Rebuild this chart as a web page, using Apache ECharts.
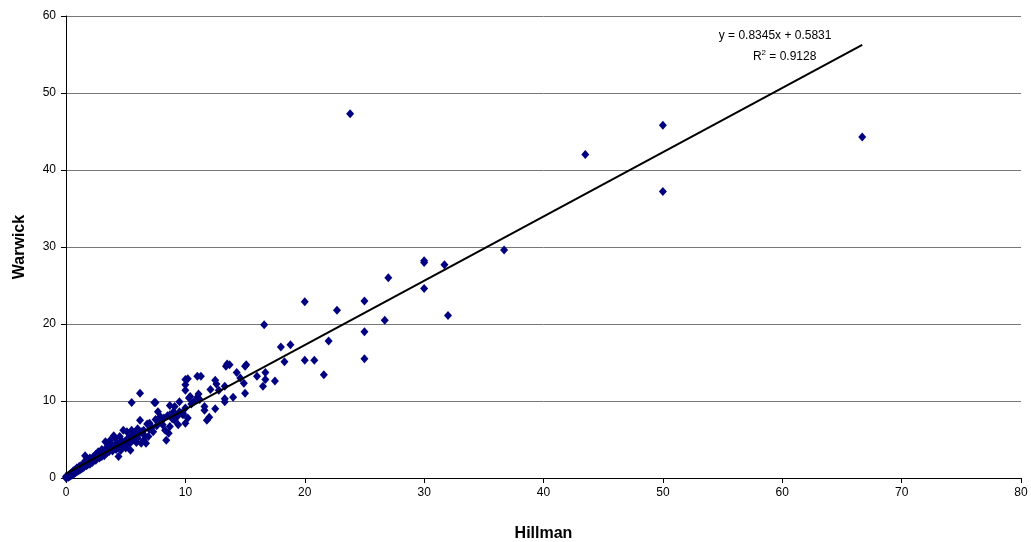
<!DOCTYPE html>
<html>
<head>
<meta charset="utf-8">
<script src="https://cdn.jsdelivr.net/npm/echarts@6/dist/echarts.min.js"></script>
<style>html,body{margin:0;padding:0;background:#fff;}#c{width:1031px;height:542px;}</style>
</head>
<body>
<div id="c"></div>
<script>
// Hillman (x) and Warwick (y) values, paired by index
const hillman = [
 23.8,43.5,50,50,66.7,36.7,30,30,31.7,30,27,26.7,32,25,25,25,22.7,20,22,21.6,20,20.8,16.6,18,18.8,18.3,17.5,16.7,16.7,16.5,16,15,15.1,14.6,14.3,13.7,13.5,13.4,15,14,13.3,13.3,13.3,12.5,12.6,12.1,12.5,12.0,11.8,11.6,11.6,11.3,11.0,11.1,11.0,10.7,10.4,10.0,10.2,10.0,10.0,10.0,10.3,9.7,9.8,10.2,10.0,9.1,9.0,8.7,8.7,9.5,9.5,9.3,9.1,8.7,9.4,8.6,8.3,8.1,8.4,7.7,7.9,7.5,7.4,7.0,7.3,6.9,6.5,6.5,6.2,6.2,6.7,6.3,5.5,5.4,5.8,5.5,5.1,5.1,4.9,4.8,4.5,4.0,4.1,3.9,3.7,3.3,4.4,2.3,1.6,
 0,0,0.1,0.2,0.2,0.3,0.3,0.4,0.4,0.5,0.5,0.6,0.6,0.7,0.7,0.8,0.8,0.9,0.9,1.0,1.0,1.1,1.1,1.2,1.2,1.3,1.4,1.4,1.5,1.5,1.6,1.7,1.8,1.8,1.9,2.0,2.0,2.1,2.2,2.3,2.4,2.5,2.5,2.6,2.7,2.8,2.9,3.0,3.0,3.1,3.2,3.3,3.4,3.5,3.6,3.7,3.8,3.9,4.0,4.2,4.3,4.5,4.6,4.7,4.8,5.0,5.2,5.3,5.4,5.6,5.7,5.9,6.0,6.0,6.1,6.3,6.6,6.8,7.0,7.2,7.5,7.6,7.8,8.0,8.2,8.5,8.9,9.3,9.8,10.5,11.2,12.8,14.9
];
const warwick = [
 47.3,42.0,45.8,37.2,44.3,29.6,28.2,28.0,27.7,24.6,26.0,20.5,21.1,23.0,19.0,15.5,21.8,22.9,17.8,13.4,15.3,15.3,19.9,17.0,17.3,15.1,12.6,13.7,12.8,11.9,13.2,14.5,14.7,13.0,13.7,14.7,14.8,14.5,11.0,10.5,11.9,10.3,9.9,12.7,12.2,11.5,9.0,7.9,7.5,9.3,8.8,13.2,13.2,10.9,10.5,9.9,10.6,12.8,12.9,12.1,11.4,9.1,10.4,8.4,8.2,7.8,7.1,9.3,8.6,8.2,9.4,9.9,8.6,8.0,7.5,6.7,6.9,5.8,6.2,6.9,4.9,8.6,8.0,9.8,9.8,7.1,6.0,5.4,6.2,4.9,7.5,11.0,4.5,4.5,9.8,5.4,5.8,6.2,6.0,4.7,4.7,6.2,5.4,5.5,5.2,4.3,4.9,4.7,2.8,2.8,2.9,
 0,0.2,0.1,0.3,0.1,0.2,0.5,0.3,0.6,0.4,0.7,0.5,0.9,0.6,1.0,0.7,1.1,0.8,1.3,0.9,1.2,1.0,1.5,1.1,1.6,1.2,1.7,1.3,1.9,1.4,2.2,1.6,2.3,1.7,2.0,2.6,1.8,2.4,2.0,2.2,2.6,3.1,2.3,2.8,3.4,2.6,3.2,3.7,2.8,3.3,2.9,3.8,3.2,4.1,3.4,3.8,4.4,3.5,4.0,3.7,4.6,4.1,3.6,4.8,4.3,3.9,5.2,4.4,3.6,4.9,5.4,4.6,6.4,5.2,5.7,6.0,5.5,7.0,6.3,6.6,7.6,6.8,7.3,7.4,7.8,8.1,7.7,8.0,8.4,9.6,10.2,11.4,12.3
];
const xTicks = [0,10,20,30,40,50,60,70,80];
const yTicks = [0,10,20,30,40,50,60];
const slope = 0.8345, intercept = 0.5831, r2 = 0.9128;

const pts = hillman.map((x,i)=>[x,warwick[i]]);
const xMax = Math.max(...hillman);
const trend = [[0, intercept],[xMax, slope*xMax+intercept]];

const chart = echarts.init(document.getElementById('c'), null, {renderer:'canvas'});
const font = "'Liberation Sans', Arial, sans-serif";
chart.setOption({
  animation:false,
  backgroundColor:'#fff',
  grid:{left:66,right:10,top:16,bottom:64,containLabel:false,outerBoundsMode:'none'},
  xAxis:{type:'value',min:xTicks[0],max:xTicks[xTicks.length-1],interval:10,
    name:'Hillman',nameLocation:'middle',nameGap:48,
    nameTextStyle:{fontFamily:font,fontSize:16,fontWeight:'bold',color:'#000'},
    axisLine:{show:true,onZero:false,lineStyle:{color:'#000',width:1}},
    axisTick:{show:true,length:5,lineStyle:{color:'#000'}},
    axisLabel:{fontFamily:font,fontSize:12,color:'#000',margin:9},
    splitLine:{show:false}},
  yAxis:{type:'value',min:yTicks[0],max:yTicks[yTicks.length-1],interval:10,
    name:'Warwick',nameLocation:'middle',nameGap:38,
    nameTextStyle:{fontFamily:font,fontSize:16,fontWeight:'bold',color:'#000'},
    axisLine:{show:true,lineStyle:{color:'#000',width:1}},
    axisTick:{show:true,length:5,lineStyle:{color:'#000'}},
    axisLabel:{fontFamily:font,fontSize:12,color:'#000',margin:10},
    splitLine:{show:true,lineStyle:{color:'#777',width:1}}},
  series:[
    {type:'scatter',data:pts,symbol:'diamond',symbolSize:[8,9],
     itemStyle:{color:'#000080',opacity:1},z:3},
    {type:'line',data:trend,showSymbol:false,symbol:'none',
     lineStyle:{color:'#000',width:2},z:4}
  ]
});
const p1 = chart.convertToPixel({gridIndex:0},[59.4,57.5]);
const p2 = chart.convertToPixel({gridIndex:0},[60.2,54.7]);
chart.setOption({graphic:[
  {type:'text',x:p1[0],y:p1[1],style:{text:'y = '+slope+'x + '+intercept,fontFamily:font,fontSize:12,fill:'#000',align:'center',verticalAlign:'middle'}},
  {type:'text',x:p2[0],y:p2[1],style:{text:'R{s|2} = '+r2,fontFamily:font,fontSize:12,fill:'#000',align:'center',verticalAlign:'middle',
    rich:{s:{fontSize:8,fontFamily:font,verticalAlign:'top',padding:[0,0,8,0]}}}}
]});
</script>
</body>
</html>
